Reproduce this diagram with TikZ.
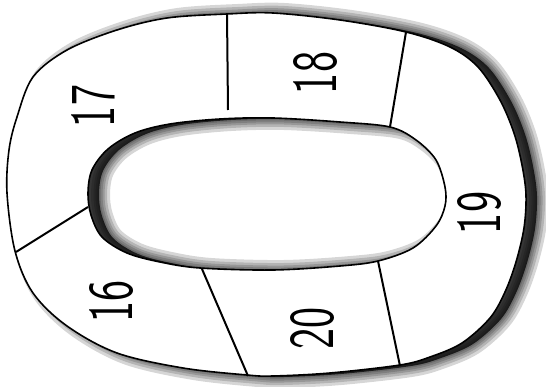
\documentclass[tikz,border=0pt]{standalone}
\usepackage{tikz}
\usetikzlibrary{calc}

\newcommand\ringouter{plot[smooth cycle, tension=0.55] coordinates {(227,14) (273,13) (340,20) (406,32) (450,47) (478,67) (500,100) (514,133) (522,165) (526,195) (524,228) (516,262) (505,292) (490,318) (462,343) (430,357) (400,365) (330,373) (273,376) (247,375) (183,368) (117,353) (67,326) (33,293) (15,251) (7,193) (9,150) (17,117) (33,77) (67,50) (117,30) (167,18)}}
\newcommand\ringinner{plot[smooth cycle, tension=0.55] coordinates {(88,193) (92,170) (108,149) (135,133) (170,124) (220,119) (273,118) (340,122) (390,127) (416,140) (436,160) (445,187) (445,206) (436,226) (413,248) (378,261) (340,266) (273,270) (200,268) (160,262) (127,253) (102,237) (91,215)}}

\begin{document}
\begin{tikzpicture}[x=1pt, y=-1pt,
  ring/.style={line width=1.6pt},
  divider/.style={line width=2pt},
  label/.style={rotate=90, inner sep=0pt, font=\sffamily\fontsize{64}{64}\selectfont}
]
\useasboundingbox (0,0) rectangle (546,387);

\begin{scope}[shift={(11,1)}]
  \fill[black, opacity=0.75, even odd rule] \ringouter \ringinner;
  \foreach \w in {3,7,11,16,22}
    \draw[black, opacity=0.16, line width=\w pt] \ringouter \ringinner;
\end{scope}
\fill[white, even odd rule] \ringouter \ringinner;
\draw[ring] \ringouter \ringinner;

\coordinate (o1) at (227,14);  \coordinate (i1) at (228,110);
\coordinate (o2) at (406,32);  \coordinate (i2) at (390,127);
\coordinate (i3) at (378,261); \coordinate (o3) at (400,366);
\coordinate (i4) at (202,269); \coordinate (o4) at (248,376);
\coordinate (i5) at (88,207);  \coordinate (o5) at (16,252);

\draw[divider] (o1) -- (i1);
\draw[divider] (o2) -- (i2);
\draw[divider] (i3) -- (o3);
\draw[divider] (i4) -- (o4);
\draw[divider] (i5) -- (o5);

\node[label] (s16) at (112,301) {\scalebox{0.7}[1]{16}};
\node[label] (s17) at (93,106) {\scalebox{0.7}[1]{17}};
\node[label] (s18) at (316,73) {\scalebox{0.7}[1]{18}};
\node[label] (s19) at (480,213) {\scalebox{0.7}[1]{19}};
\node[label] (s20) at (313,328) {\scalebox{0.7}[1]{20}};
\end{tikzpicture}
\end{document}
